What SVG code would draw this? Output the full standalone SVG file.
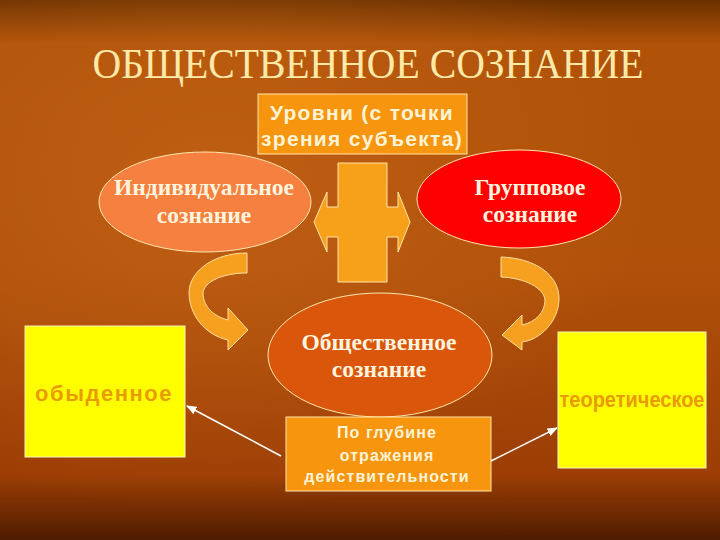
<svg xmlns="http://www.w3.org/2000/svg" width="720" height="540" viewBox="0 0 720 540">
<defs>
<linearGradient id="bg" x1="0" y1="0" x2="0" y2="1">
<stop offset="0" stop-color="#6a3000"/>
<stop offset="0.08" stop-color="#b05208"/>
<stop offset="0.5" stop-color="#b0500a"/>
<stop offset="0.88" stop-color="#9c3e05"/>
<stop offset="1" stop-color="#4e1c00"/>
</linearGradient>
<radialGradient id="glow" cx="0.3" cy="0.35" r="0.6">
<stop offset="0" stop-color="#d07020" stop-opacity="0.45"/>
<stop offset="1" stop-color="#d07020" stop-opacity="0"/>
</radialGradient>
<marker id="ah" viewBox="0 0 10 10" refX="9" refY="5" markerWidth="7" markerHeight="7" orient="auto">
<path d="M0,1 L10,5 L0,9 Z" fill="#ffffff"/>
</marker>
<style>
.serif{font-family:"Liberation Serif","Times New Roman",serif;font-weight:bold;font-size:23.5px;fill:#fff4de;text-anchor:middle}
.sans{font-family:"Liberation Sans",Arial,sans-serif;font-weight:bold;text-anchor:middle}
.box{fill:#f7950f;stroke:#ffe6a8;stroke-width:1}
.ybox{fill:#ffff00;stroke:#fff3c0;stroke-width:1}
.ylab{fill:#e89c00;font-size:22px}
.curl{fill:#f7a020;stroke:#ffe0a0;stroke-width:1}
.conn{stroke:#ffffff;stroke-width:1.5;fill:none;marker-end:url(#ah)}
</style>
</defs>
<rect x="0" y="0" width="720" height="540" fill="url(#bg)"/>
<rect x="0" y="0" width="720" height="540" fill="url(#glow)"/>

<text x="368" y="78" font-family="'Liberation Serif','Times New Roman',serif" font-size="43" fill="#ffe9a8" text-anchor="middle" textLength="551" lengthAdjust="spacingAndGlyphs">ОБЩЕСТВЕННОЕ СОЗНАНИЕ</text>

<g id="levels">
<rect class="box" x="258" y="94" width="209" height="60"/>
<text class="sans" x="362" y="120" font-size="21" fill="#fff3d6" letter-spacing="1.3">Уровни (с точки</text>
<text class="sans" x="362" y="146" font-size="21" fill="#fff3d6" letter-spacing="1.3">зрения субъекта)</text>
</g>

<g id="cross">
<polygon points="314,222 327,192 327,207 338,207 338,163 387,163 387,207 398,207 398,192 410,222 398,252 398,237 387,237 387,282 338,282 338,237 327,237 327,252" fill="#f7a01a" stroke="#ffe6a8" stroke-width="1"/>
</g>

<g id="individual">
<ellipse cx="205" cy="202" rx="106" ry="50" fill="#f5803f" stroke="#ffe6b0" stroke-width="1"/>
<text class="serif" x="204" y="195">Индивидуальное</text>
<text class="serif" x="204" y="223">сознание</text>
</g>

<g id="group">
<ellipse cx="519" cy="199" rx="102" ry="49" fill="#ff0000" stroke="#ffe6b0" stroke-width="1"/>
<text class="serif" x="530" y="195">Групповое</text>
<text class="serif" x="530" y="222">сознание</text>
</g>

<g id="curl-left">
<path class="curl" d="M247,253 C215,253 190,270 189,292 C189,315 205,335 228,340 L228,350 L248,330 L228,308 L228,320 C212,316 203,305 203,293 C204,282 222,273 247,273 Z"/>
</g>
<g id="curl-right">
<path class="curl" d="M501,257 C535,258 560,275 559,300 C558,322 540,340 522,342 L522,350 L502,335 L522,315 L522,325 C536,322 545,312 545,300 C544,288 525,278 501,277 Z"/>
</g>

<g id="society">
<ellipse cx="380" cy="355" rx="112" ry="62" fill="#d9560a" stroke="#ffe6b0" stroke-width="1"/>
<text class="serif" x="379" y="350">Общественное</text>
<text class="serif" x="379" y="377">сознание</text>
</g>

<g id="depth">
<rect class="box" x="286" y="417" width="205" height="74"/>
<text class="sans" x="387" y="438" font-size="16" fill="#fff3d6" letter-spacing="1.1">По глубине</text>
<text class="sans" x="387" y="461" font-size="16" fill="#fff3d6" letter-spacing="1.1">отражения</text>
<text class="sans" x="387" y="482" font-size="16" fill="#fff3d6" letter-spacing="1.1">действительности</text>
</g>

<g id="ordinary">
<rect class="ybox" x="25" y="326" width="160" height="131"/>
<text class="sans ylab" x="104" y="401" letter-spacing="1.5">обыденное</text>
</g>

<g id="theoretical">
<rect class="ybox" x="558" y="332" width="148" height="136"/>
<text class="sans ylab" x="632" y="407" textLength="145" lengthAdjust="spacingAndGlyphs">теоретическое</text>
</g>

<g id="connectors">
<line class="conn" x1="281" y1="456" x2="187" y2="406"/>
<line class="conn" x1="491" y1="461" x2="557" y2="428"/>
</g>
</svg>
